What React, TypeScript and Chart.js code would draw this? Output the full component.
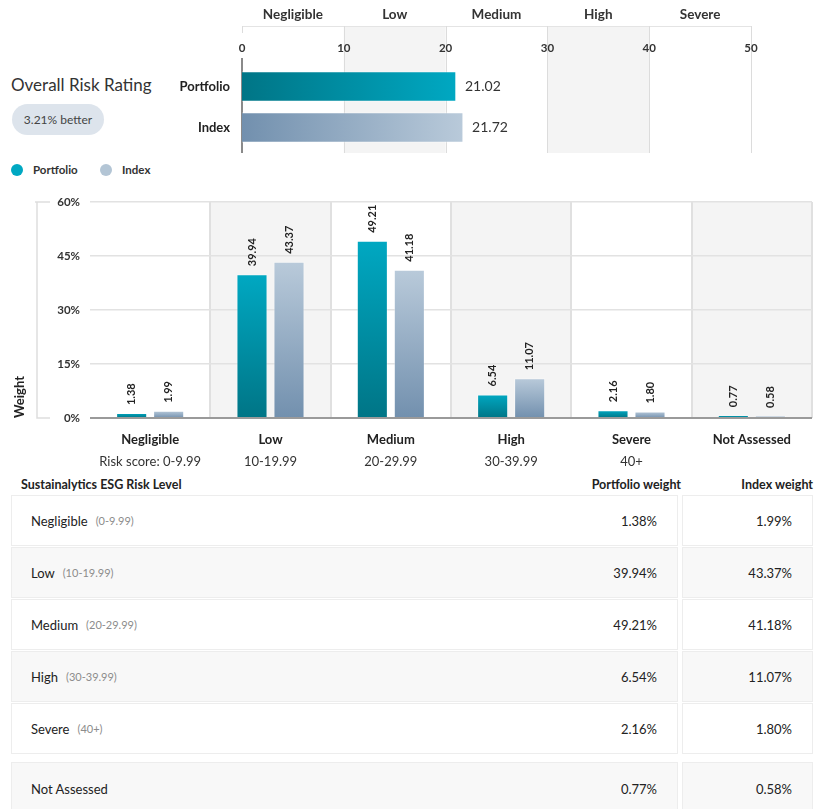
import React, { useEffect, useRef } from "react";
import { Chart, registerables } from "chart.js";

Chart.register(...registerables);

const FONT = "Lato, 'Noto Sans', sans-serif";
Chart.defaults.font.family = FONT;

// ---- Overall risk rating (top chart) ----
const ratingSeries = ["Portfolio", "Index"];
const ratingValues = [21.02, 21.72];
const ratingBands = ["Negligible", "Low", "Medium", "High", "Severe"];
const ratingTicks = [0, 10, 20, 30, 40, 50];
const ratingTitle = "Overall Risk Rating";
const betterLabel = "3.21% better";

// ---- Weight distribution (bar chart + table) ----
const categories = ["Negligible", "Low", "Medium", "High", "Severe", "Not Assessed"];
const categoryRanges = ["Risk score: 0-9.99", "10-19.99", "20-29.99", "30-39.99", "40+", ""];
const tableRanges = ["(0-9.99)", "(10-19.99)", "(20-29.99)", "(30-39.99)", "(40+)", ""];
const portfolioWeights = [1.38, 39.94, 49.21, 6.54, 2.16, 0.77];
const indexWeights = [1.99, 43.37, 41.18, 11.07, 1.8, 0.58];
const weightTicks = [0, 15, 30, 45, 60];
const seriesNames = ["Portfolio", "Index"];

const TEAL_DARK = "#007586";
const TEAL_LIGHT = "#00a8c2";
const SLATE_DARK = "#7290ae";
const SLATE_LIGHT = "#b9cada";

function RatingChart() {
  const ref = useRef<HTMLCanvasElement>(null);
  useEffect(() => {
    const canvas = ref.current!;
    const horizGrad = (left: string, right: string) => (c: any) => {
      const chart = c.chart;
      if (!chart.chartArea || c.raw == null) return right;
      const x = chart.scales.x;
      const g = chart.ctx.createLinearGradient(x.getPixelForValue(0), 0, x.getPixelForValue(c.raw), 0);
      g.addColorStop(0, left);
      g.addColorStop(1, right);
      return g;
    };
    const decor = {
      id: "ratingDecor",
      beforeDatasetsDraw(chart: any) {
        const { ctx, chartArea } = chart;
        const x = chart.scales.x;
        const top = 26;
        const bottom = chartArea.bottom + 5;
        ctx.save();
        ctx.fillStyle = "#f4f4f4";
        for (let i = 1; i < ratingBands.length; i += 2) {
          const a = x.getPixelForValue(ratingTicks[i]);
          const b = x.getPixelForValue(ratingTicks[i + 1]);
          ctx.fillRect(a, top, b - a, bottom - top);
        }
        const x0 = x.getPixelForValue(ratingTicks[0]);
        const x1 = x.getPixelForValue(ratingTicks[ratingTicks.length - 1]);
        ctx.strokeStyle = "#e4e4e4";
        ctx.lineWidth = 1;
        ctx.beginPath();
        ctx.moveTo(x0, top + 0.5);
        ctx.lineTo(x1, top + 0.5);
        ctx.stroke();
        ratingTicks.forEach((t, i) => {
          const px = Math.round(x.getPixelForValue(t)) + 0.5;
          ctx.strokeStyle = "#dcdcdc";
          ctx.beginPath();
          ctx.moveTo(px, top);
          ctx.lineTo(px, i === 0 ? top + 7 : bottom);
          ctx.stroke();
        });
        ctx.strokeStyle = "#8a8a8a";
        ctx.lineWidth = 2;
        ctx.beginPath();
        ctx.moveTo(x0, 58);
        ctx.lineTo(x0, bottom);
        ctx.stroke();
        ctx.fillStyle = "#333";
        ctx.textAlign = "center";
        ctx.textBaseline = "middle";
        ctx.font = `bold 11.5px ${FONT}`;
        ratingTicks.forEach((t) => ctx.fillText(String(t), x.getPixelForValue(t), 48));
        ctx.font = `bold 13.5px ${FONT}`;
        ratingBands.forEach((b, i) => {
          const cx = (x.getPixelForValue(ratingTicks[i]) + x.getPixelForValue(ratingTicks[i + 1])) / 2;
          ctx.fillText(b, cx, 15);
        });
        ctx.restore();
      },
      afterDatasetsDraw(chart: any) {
        const { ctx } = chart;
        const meta = chart.getDatasetMeta(0);
        ctx.save();
        ctx.fillStyle = "#333";
        ctx.font = `14px ${FONT}`;
        ctx.textAlign = "left";
        ctx.textBaseline = "middle";
        meta.data.forEach((el: any, i: number) => {
          ctx.fillText(ratingValues[i].toFixed(2), el.x + 9, el.y);
        });
        ctx.restore();
      },
    };
    const chart = new Chart(canvas, {
      type: "bar",
      data: {
        labels: ratingSeries,
        datasets: [
          {
            data: ratingValues,
            barThickness: 30,
            borderWidth: 1,
            borderColor: "rgba(255,255,255,0.35)",
            backgroundColor: (c: any) =>
              c.dataIndex === 0
                ? horizGrad(TEAL_DARK, TEAL_LIGHT)(c)
                : horizGrad(SLATE_DARK, SLATE_LIGHT)(c),
          },
        ],
      },
      options: {
        indexAxis: "y",
        animation: false,
        responsive: false,
        maintainAspectRatio: false,
        layout: { padding: { left: 0, right: 67, top: 66, bottom: 12 } },
        plugins: { legend: { display: false }, tooltip: { enabled: false } },
        scales: {
          x: { type: "linear", min: 0, max: 50, display: false },
          y: {
            type: "category",
            grid: { display: false, drawTicks: false },
            border: { display: false },
            ticks: { color: "#222", padding: 12, font: { family: FONT, size: 13, weight: "bold" } },
            afterFit: (s: any) => {
              s.width = 82;
              s.paddingTop = 0;
              s.paddingBottom = 0;
            },
          },
        },
      },
      plugins: [decor],
    } as any);
    return () => chart.destroy();
  }, []);
  return <canvas ref={ref} width={658} height={160} style={{ position: "absolute", left: 160, top: 0, display: "block" }} />;
}

function WeightChart() {
  const ref = useRef<HTMLCanvasElement>(null);
  useEffect(() => {
    const canvas = ref.current!;
    const vertGrad = (top: string, bottom: string) => (c: any) => {
      const chart = c.chart;
      if (!chart.chartArea || c.raw == null) return bottom;
      const y = chart.scales.y;
      const g = chart.ctx.createLinearGradient(0, y.getPixelForValue(c.raw), 0, y.getPixelForValue(0));
      g.addColorStop(0, top);
      g.addColorStop(1, bottom);
      return g;
    };
    const decor = {
      id: "weightDecor",
      beforeDraw(chart: any) {
        const { ctx, chartArea } = chart;
        const x = chart.scales.x;
        const w = (chartArea.right - chartArea.left) / categories.length;
        ctx.save();
        ctx.fillStyle = "#f4f4f4";
        for (let i = 1; i < categories.length; i += 2) {
          const cx = x.getPixelForValue(i);
          ctx.fillRect(cx - w / 2, chartArea.top, w, chartArea.bottom - chartArea.top);
        }
        ctx.restore();
      },
      afterDatasetsDraw(chart: any) {
        const { ctx } = chart;
        ctx.save();
        ctx.fillStyle = "#222";
        ctx.font = `bold 11px ${FONT}`;
        ctx.textAlign = "left";
        ctx.textBaseline = "middle";
        const sets = [portfolioWeights, indexWeights];
        sets.forEach((vals, d) => {
          const meta = chart.getDatasetMeta(d);
          meta.data.forEach((el: any, i: number) => {
            ctx.save();
            ctx.translate(el.x, el.y - 8);
            ctx.rotate(-Math.PI / 2);
            ctx.fillText(vals[i].toFixed(2), 0, 0);
            ctx.restore();
          });
        });
        ctx.restore();
      },
      afterDraw(chart: any) {
        const { ctx, chartArea } = chart;
        const x = chart.scales.x;
        ctx.save();
        ctx.textAlign = "center";
        ctx.textBaseline = "middle";
        categories.forEach((c, i) => {
          const px = x.getPixelForValue(i);
          ctx.fillStyle = "#222";
          ctx.font = `bold 13px ${FONT}`;
          ctx.fillText(c, px, chartArea.bottom + 22);
          if (categoryRanges[i]) {
            ctx.fillStyle = "#333";
            ctx.font = `13px ${FONT}`;
            ctx.fillText(categoryRanges[i], px, chartArea.bottom + 44);
          }
        });
        // left bracket of the value axis
        const bx = chartArea.left - 53;
        ctx.strokeStyle = "#dedede";
        ctx.lineWidth = 1.5;
        ctx.beginPath();
        ctx.moveTo(bx - 2, chartArea.top);
        ctx.lineTo(bx + 13, chartArea.top);
        ctx.moveTo(bx, chartArea.top);
        ctx.lineTo(bx, chartArea.bottom);
        ctx.lineTo(bx + 13, chartArea.bottom);
        ctx.stroke();
        ctx.restore();
      },
    };
    const chart = new Chart(canvas, {
      type: "bar",
      data: {
        labels: categories,
        datasets: [
          {
            label: seriesNames[0],
            data: portfolioWeights,
            backgroundColor: vertGrad(TEAL_LIGHT, TEAL_DARK),
            borderWidth: 1,
            borderColor: "rgba(255,255,255,0.35)",
            categoryPercentage: 0.615,
            barPercentage: 0.84,
          },
          {
            label: seriesNames[1],
            data: indexWeights,
            backgroundColor: vertGrad(SLATE_LIGHT, SLATE_DARK),
            borderWidth: 1,
            borderColor: "rgba(255,255,255,0.35)",
            categoryPercentage: 0.615,
            barPercentage: 0.84,
          },
        ],
      },
      options: {
        animation: false,
        responsive: false,
        maintainAspectRatio: false,
        layout: { padding: { left: 0, right: 6, top: 12, bottom: 0 } },
        plugins: { legend: { display: false }, tooltip: { enabled: false } },
        scales: {
          x: {
            type: "category",
            ticks: { display: false },
            border: { display: false },
            grid: {
              offset: true,
              drawTicks: false,
              color: (c: any) => (c.index === 0 || c.index === categories.length ? "rgba(0,0,0,0)" : "#e0e0e0"),
              lineWidth: 2,
            },
            afterFit: (s: any) => {
              s.height = 54;
              s.paddingLeft = 0;
              s.paddingRight = 0;
            },
          },
          y: {
            min: 0,
            max: 60,
            afterBuildTicks: (s: any) => {
              s.ticks = weightTicks.map((v) => ({ value: v }));
            },
            ticks: {
              callback: (v: any) => v + "%",
              color: "#333",
              padding: 10,
              font: { family: FONT, size: 11.5, weight: "bold" },
            },
            border: { display: false },
            grid: {
              drawTicks: false,
              color: (c: any) => (c.tick && c.tick.value === 0 ? "#9a9a9a" : "#e2e2e2"),
              lineWidth: (c: any) => (c.tick && c.tick.value === 0 ? 2 : 1.5),
            },
            title: {
              display: true,
              text: "Weight",
              align: "start",
              color: "#222",
              font: { family: FONT, size: 13, weight: "bold" },
              padding: { top: 12, bottom: 0 },
            },
            afterFit: (s: any) => {
              s.width = 90;
              s.paddingTop = 0;
              s.paddingBottom = 0;
            },
          },
        },
      },
      plugins: [decor],
    } as any);
    return () => chart.destroy();
  }, []);
  return <canvas ref={ref} width={818} height={282} style={{ position: "absolute", left: 0, top: 190, display: "block" }} />;
}

const rowTops = [495, 547, 599, 651, 703, 762];
const rowHeights = [51, 51, 51, 51, 51, 54];

export default function App() {
  const legendColors = [TEAL_LIGHT, "#b3c5d5"];
  return (
    <div
      style={{
        position: "absolute",
        left: 0,
        top: 0,
        width: 818,
        height: 809,
        overflow: "hidden",
        background: "#fff",
        fontFamily: FONT,
        color: "#222",
      }}
    >
      <div style={{ position: "absolute", left: 11, top: 74, fontSize: 17, lineHeight: "22px", color: "#333" }}>{ratingTitle}</div>
      <div
        style={{
          position: "absolute",
          left: 12,
          top: 104,
          width: 92,
          height: 31,
          borderRadius: 16,
          background: "#dde4ec",
          fontSize: 12,
          color: "#444",
          display: "flex",
          alignItems: "center",
          justifyContent: "center",
        }}
      >
        {betterLabel}
      </div>
      <RatingChart />
      {seriesNames.map((s, i) => (
        <React.Fragment key={s}>
          <div
            style={{
              position: "absolute",
              left: i === 0 ? 11 : 100,
              top: 164,
              width: 12,
              height: 12,
              borderRadius: 6,
              background: legendColors[i],
            }}
          />
          <div
            style={{
              position: "absolute",
              left: i === 0 ? 33 : 122,
              top: 162,
              fontSize: 11.5,
              lineHeight: "16px",
              fontWeight: 700,
              color: "#333",
            }}
          >
            {s}
          </div>
        </React.Fragment>
      ))}
      <WeightChart />
      <div style={{ position: "absolute", left: 21, top: 476, fontSize: 12.5, fontWeight: 700, lineHeight: "17px" }}>
        Sustainalytics ESG Risk Level
      </div>
      <div style={{ position: "absolute", right: 818 - 681, top: 476, fontSize: 12.5, fontWeight: 700, lineHeight: "17px" }}>
        Portfolio weight
      </div>
      <div style={{ position: "absolute", right: 5, top: 476, fontSize: 12.5, fontWeight: 700, lineHeight: "17px" }}>
        Index weight
      </div>
      {categories.map((c, i) => {
        const bg = i % 2 === 1 ? "#f8f8f8" : "#ffffff";
        const cell: React.CSSProperties = {
          position: "absolute",
          top: rowTops[i],
          height: rowHeights[i],
          boxSizing: "border-box",
          border: "1px solid #ededed",
          background: bg,
          display: "flex",
          alignItems: "center",
          fontSize: 13,
          color: "#222",
        };
        return (
          <React.Fragment key={c}>
            <div style={{ ...cell, left: 11, width: 667, paddingLeft: 19, paddingRight: 20 }}>
              <span>{c}</span>
              {tableRanges[i] && (
                <span style={{ fontSize: 11, color: "#8c8c8c", marginLeft: 8 }}>{tableRanges[i]}</span>
              )}
              <span style={{ marginLeft: "auto" }}>{portfolioWeights[i].toFixed(2)}%</span>
            </div>
            <div style={{ ...cell, left: 682, width: 131, paddingRight: 20, justifyContent: "flex-end" }}>
              {indexWeights[i].toFixed(2)}%
            </div>
          </React.Fragment>
        );
      })}
    </div>
  );
}
